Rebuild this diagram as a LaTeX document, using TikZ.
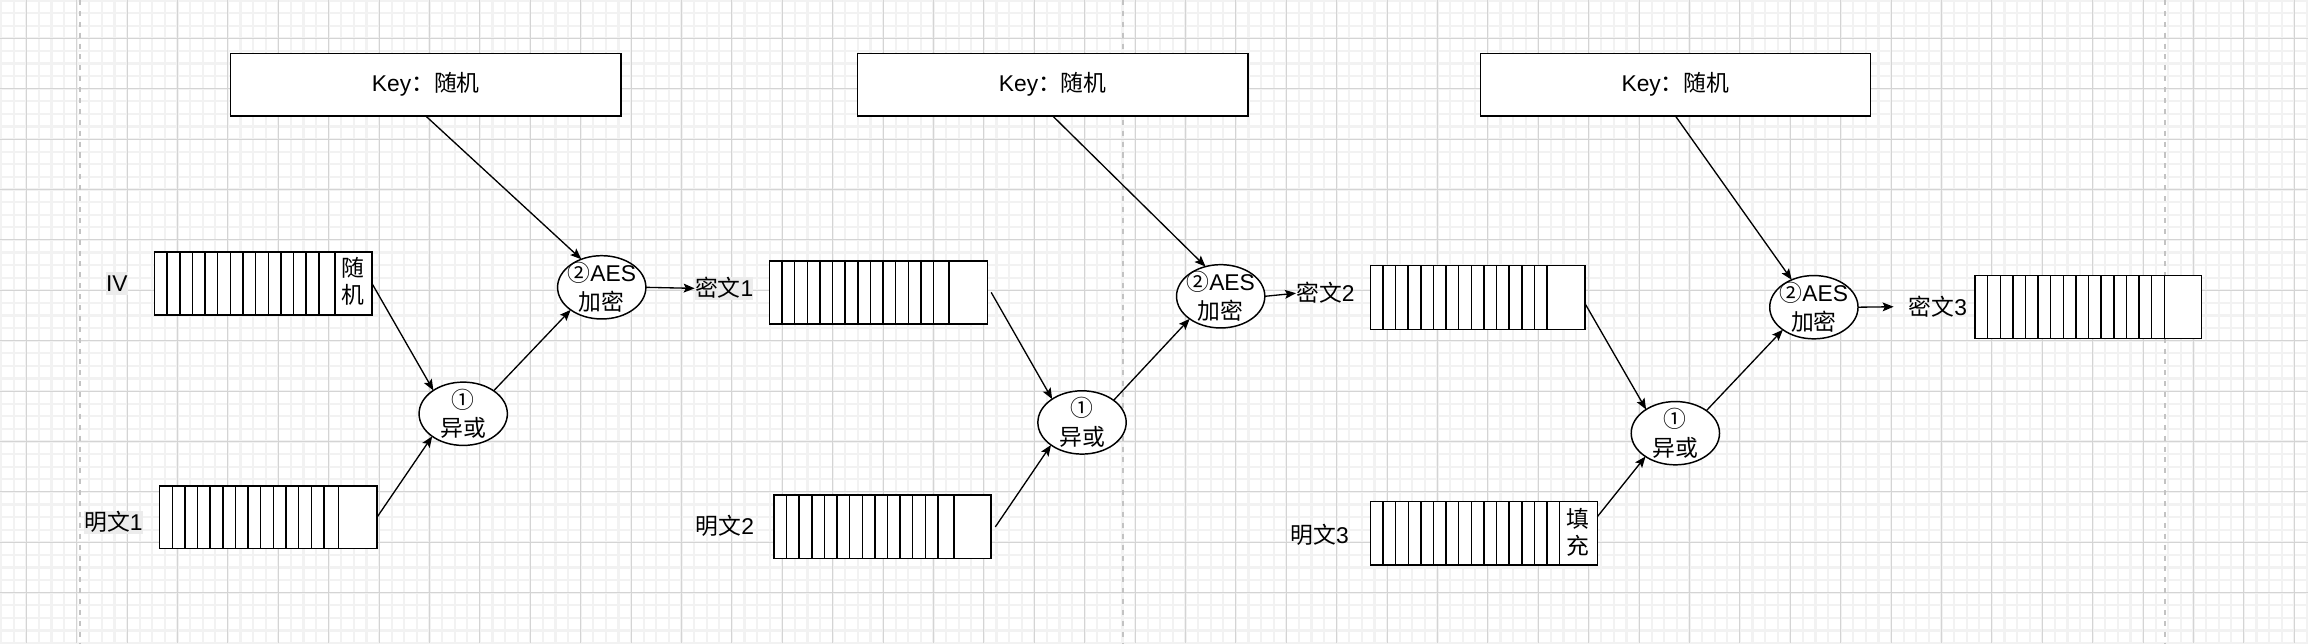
\documentclass[tikz,border=0pt]{standalone}
\usepackage{fontspec}
\setmainfont{Liberation Sans}
\newfontfamily\cjk{Noto Sans CJK SC}
\usetikzlibrary{arrows.meta,shapes.geometric}
\definecolor{minorgrid}{RGB}{242,242,242}
\definecolor{majorgrid}{RGB}{212,212,212}
\definecolor{pagedash}{RGB}{195,195,195}
\definecolor{labelbg}{RGB}{236,236,236}
\newcommand\regcells[3]{\foreach \k in {1,...,#2}{\draw[cellline] ([xshift=\k*#3]#1.north west) -- ([xshift=\k*#3]#1.south west);}}
\newcommand\regline[2]{\draw[cellline] ([xshift=#2]#1.north west) -- ([xshift=#2]#1.south west);}
\begin{document}
\begin{tikzpicture}[x=1pt,y=-1pt,
  font=\fontsize{15.5}{18.6}\selectfont,
  box/.style={draw=black, line width=1pt, fill=white, inner sep=0pt, outer sep=0pt},
  reg/.style={box, anchor=north west},
  cellline/.style={line width=1pt, draw=black},
  ell/.style={ellipse, draw=black, line width=1pt, fill=white, minimum width=60pt, minimum height=43pt, inner sep=0pt, outer sep=0pt},
  elltext/.style={align=center, inner sep=0pt, font=\fontsize{15.5}{19.5}\selectfont},
  keybox/.style={box, minimum width=265pt, minimum height=42.6pt},
  lab/.style={inner sep=0pt, text height=13.1pt, text depth=1.9pt},
  labbg/.style={lab, fill=labelbg, text height=13.35pt, text depth=2.15pt},
  celltext/.style={align=center, inner sep=0pt, font=\fontsize{15.5}{18.5}\selectfont},
  arr/.style={draw=black, line width=0.9pt, -{Stealth[length=7.5pt,width=6pt,inset=1.5pt]}},
]
\useasboundingbox (0,0) rectangle (1568,436.84);
% grid
\foreach \i in {0,...,183}{\draw[minorgrid, line width=1.4pt] ({0.75+8.56*\i},0) -- ({0.75+8.56*\i},436.84);}
\foreach \j in {0,...,51}{\draw[minorgrid, line width=1.4pt] (0,{0.32+8.56*\j}) -- (1568,{0.32+8.56*\j});}
\foreach \i in {0,...,45}{\draw[majorgrid, line width=0.7pt] ({17.87+34.24*\i},0) -- ({17.87+34.24*\i},436.84);}
\foreach \j in {0,...,11}{\draw[majorgrid, line width=0.7pt] (0,{26.0+34.24*\j}) -- (1568,{26.0+34.24*\j});}
% page break lines
\foreach \x in {54.6,762.9,1470.8}{\draw[pagedash, line width=1.2pt, dash pattern=on 3.4pt off 4pt] (\x,0) -- (\x,436.84);}

% key boxes
\node[keybox] (key1) at (289.25,57.5) {Key{\cjk ：随机}};
\node[keybox] (key2) at (715.2,57.5) {Key{\cjk ：随机}};
\node[keybox] (key3) at (1138.25,57.5) {Key{\cjk ：随机}};

% registers
\node[reg, minimum width=147.7pt, minimum height=42.9pt] (iv) at (105.0,171.1) {};
\regcells{iv}{13}{8.585pt}
\regline{iv}{122.7pt}
\node[celltext] (ivr) at (240.0,191.0) {{\cjk 随}\\{\cjk 机}};

\node[reg, minimum width=147.6pt, minimum height=42.7pt] (pt1) at (108.5,330.1) {};
\regcells{pt1}{13}{8.58pt}
\regline{pt1}{121.3pt}

\node[reg, minimum width=148pt, minimum height=42.9pt] (c1reg) at (522.7,177.2) {};
\regcells{c1reg}{13}{8.58pt}
\regline{c1reg}{122.0pt}

\node[reg, minimum width=147.6pt, minimum height=43.1pt] (p2reg) at (525.8,336.4) {};
\regcells{p2reg}{13}{8.57pt}
\regline{p2reg}{122.3pt}

\node[reg, minimum width=145.9pt, minimum height=43.2pt] (c2reg) at (930.9,180.5) {};
\regcells{c2reg}{14}{8.58pt}

\node[reg, minimum width=154.2pt, minimum height=43.0pt] (p3reg) at (931.0,340.7) {};
\regcells{p3reg}{15}{8.573pt}
\node[celltext] (p3r) at (1072.0,361.5) {{\cjk 填}\\{\cjk 充}};

\node[reg, minimum width=154pt, minimum height=42.9pt] (c3reg) at (1341.8,187.2) {};
\regcells{c3reg}{15}{8.57pt}

% labels
\node[labbg] (ivlab) at (79.4,192.5) {IV};
\node[labbg] (p1lab) at (77.1,355.1) {{\cjk 明文}1};
\node[labbg] (c1lab) at (492.0,195.9) {{\cjk 密文}1};
\node[lab] (p2lab) at (492.5,357.8) {{\cjk 明文}2};
\node[lab] (c2lab) at (900.5,199.2) {{\cjk 密文}2};
\node[lab] (p3lab) at (896.6,363.6) {{\cjk 明文}3};
\node[lab] (c3lab) at (1316.5,208.4) {{\cjk 密文}3};

% ellipses
\node[ell] (xor1) at (314.7,281.1) {};
\node[elltext] (xor1t) at (xor1) {{\cjk ①}\\{\cjk 异或}};
\node[ell] (aes1) at (408.8,195.2) {};
\node[elltext] (aes1t) at (aes1) {{\cjk ②}AES\\{\cjk 加密}};
\node[ell] (xor2) at (735.1,287.0) {};
\node[elltext] (xor2t) at (xor2) {{\cjk ①}\\{\cjk 异或}};
\node[ell] (aes2) at (829.3,201.3) {};
\node[elltext] (aes2t) at (aes2) {{\cjk ②}AES\\{\cjk 加密}};
\node[ell] (xor3) at (1138.2,294.3) {};
\node[elltext] (xor3t) at (xor3) {{\cjk ①}\\{\cjk 异或}};
\node[ell] (aes3) at (1232.3,208.7) {};
\node[elltext] (aes3t) at (aes3) {{\cjk ②}AES\\{\cjk 加密}};

% arrows
\draw[arr] (key1.south) -- (aes1.126);
\draw[arr] (iv.east) -- (xor1.142);
\draw[arr] (pt1.east) -- (xor1.216);
\draw[arr] (xor1.37) -- (aes1.216);
\draw[arr] (aes1.east) -- (c1lab.west);

\draw[arr] (key2.south) -- (aes2.117);
\draw[arr] ([xshift=2.7pt]c1reg.east) -- (xor2.142);
\draw[arr] ([xshift=2.8pt]p2reg.east) -- (xor2.216);
\draw[arr] (xor2.35) -- (aes2.216);
\draw[arr] (aes2.east) -- (c2lab.west);

\draw[arr] (key3.south) -- (aes3.129);
\draw[arr] ([yshift=-4.1pt]c2reg.east) -- (xor3.141);
\draw[arr] ([yshift=11.2pt]p3reg.east) -- (xor3.218);
\draw[arr] (xor3.36) -- (aes3.216);
\draw[arr] (aes3.east) -- ([xshift=-10pt]c3lab.west);
\end{tikzpicture}
\end{document}
